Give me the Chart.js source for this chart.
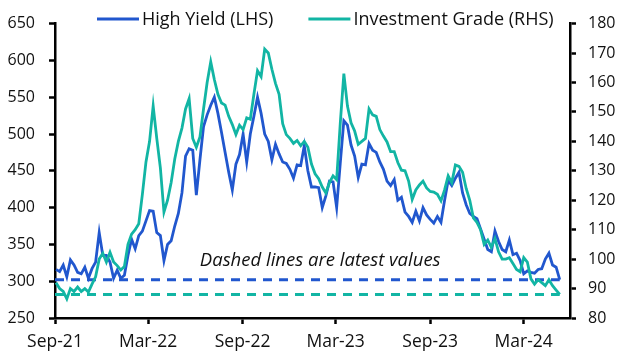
<!DOCTYPE html>
<html><head><meta charset="utf-8">
<script src="https://cdn.jsdelivr.net/npm/chart.js@4.4.1/dist/chart.umd.min.js"></script>
<style>html,body{margin:0;padding:0;background:#fff}#wrap{width:628px;height:360px;position:relative}</style>
</head><body><div id="wrap"><canvas id="c" width="628" height="360"></canvas></div>
<script>
// Weekly observations, first on 2021-09-03
const firstDate = '2021-09-03';
const highYield = [316,313,322,306,329,322,312,310,319,304,317,326,366,335,335,326,304,315,304,308,
335,357,344,362,368,382,396,395,366,362,328,350,355,375,392,420,470,480,478,417,
465,510,526,539,550,528,502,475,448,424,459,472,500,462,500,524,550,528,500,490,
465,486,473,462,460,452,440,458,457,484,450,428,428,427,400,416,436,435,400,460,
518,512,485,470,441,459,458,487,478,475,462,452,436,430,438,410,414,394,388,380,
395,382,400,390,384,379,388,380,410,437,430,440,448,420,404,392,388,385,371,357,
343,340,368,354,343,340,356,336,338,328,310,314,312,311,316,317,330,338,322,319,302];
const investmentGrade = [92,90,89,86.5,90,89,90.5,89,90,88.8,91.5,94,100,102,99,102.3,99,97.8,96.3,97.5,
105,108.5,110,112,122,133,140,152,141,131,116,120,126,134,140,144.5,151,154.5,141,138,
141.5,151,160,167,161,156,153,152.3,148.5,145.7,142.3,145.5,144,148,147.5,156,164,162,171.3,170,
164.5,159.7,156,146,142.3,141,139.3,140.3,138.5,140,138,132.3,129,127.3,124.5,122.5,126,128.3,127,146,
163,152,146.3,143.5,139,140,141,151,149,148.5,144,141.8,139.8,136.5,136.5,132.8,130.2,130,126.5,120.3,
123.5,125.2,126.5,124.2,123,122.8,122,119.8,123.5,128.3,126,132,131.5,129.5,124,120,114,112.5,110,105,
106.5,104,107,102.5,100,100,100.5,98.5,96.5,95.7,100.5,99,93.3,91.5,93,92,91,93,91,89.5,88];
const tickDates = ['2021-09-01','2022-03-01','2022-09-01','2023-03-01','2023-09-01','2024-03-01'];
const tickLabels = ['Sep-21','Mar-22','Sep-22','Mar-23','Sep-23','Mar-24'];
const axisEndDate = '2024-05-30';
const seriesNames = ['High Yield (LHS)','Investment Grade (RHS)'];
const noteText = 'Dashed lines are latest values';

const BLUE = '#2157CE', TEAL = '#12B5A4';
const FONT = "'Open Sans', sans-serif";
const dayMs = 86400000;
const origin = Date.UTC(2021, 8, 1);
const toDay = s => { const [y,m,d] = s.split('-').map(Number); return Math.round((Date.UTC(y,m-1,d) - origin)/dayMs); };
const firstDay = toDay(firstDate);
const xs = highYield.map((_, i) => firstDay + 7*i);
const lastDay = xs[xs.length-1];
const tickDays = tickDates.map(toDay);

const hyPts = highYield.map((v,i)=>({x:xs[i], y:v}));
const igPts = investmentGrade.map((v,i)=>({x:xs[i], y:v}));
const hyLast = highYield[highYield.length-1];
const igLast = investmentGrade[investmentGrade.length-1];

const overlay = {
  id:'overlay',
  afterDraw(chart){
    const ctx = chart.ctx, xS = chart.scales.x, yS = chart.scales.y;
    ctx.save();
    ctx.font = `18px ${FONT}`;
    ctx.textBaseline = 'alphabetic';
    ctx.textAlign = 'left';
    // legend
    const items = [[seriesNames[0], BLUE],[seriesNames[1], TEAL]];
    const sw = 42, gap = 3, sep = 35;
    let x = chart.chartArea.left + 42;
    const ly = 19, base = 25;
    items.forEach((it)=>{
      ctx.strokeStyle = it[1]; ctx.lineWidth = 3; ctx.setLineDash([]); ctx.lineCap = 'butt';
      ctx.beginPath(); ctx.moveTo(x, ly); ctx.lineTo(x+sw, ly); ctx.stroke();
      x += sw + gap;
      ctx.fillStyle = '#111';
      ctx.fillText(it[0], x, base);
      x += ctx.measureText(it[0]).width + sep;
    });
    // note
    ctx.font = `italic 18.5px ${FONT}`;
    ctx.textAlign = 'center';
    ctx.fillText(noteText, xS.getPixelForValue(516), yS.getPixelForValue(320));
    ctx.restore();
  }
};

const gridOpts = {display:true, drawOnChartArea:false, drawTicks:true, tickLength:6, tickColor:'#000', tickWidth:2.5};
const borderOpts = {display:true, color:'#000', width:2.5};

new Chart(document.getElementById('c'), {
  type:'line',
  data:{datasets:[
    {label:seriesNames[0], data:hyPts, borderColor:BLUE, borderWidth:2.8, pointRadius:0, yAxisID:'y', tension:0, order:1},
    {label:seriesNames[1], data:igPts, borderColor:TEAL, borderWidth:2.8, pointRadius:0, yAxisID:'y2', tension:0, order:0},
    {label:'hyLatest', data:[{x:0,y:hyLast},{x:lastDay,y:hyLast}], borderColor:BLUE, borderWidth:3, borderDash:[9,7], pointRadius:0, yAxisID:'y', order:3},
    {label:'igLatest', data:[{x:0,y:igLast},{x:lastDay,y:igLast}], borderColor:TEAL, borderWidth:3, borderDash:[9,7], pointRadius:0, yAxisID:'y2', order:3}
  ]},
  options:{
    responsive:false, animation:false, devicePixelRatio:1,
    layout:{padding:{top:18,left:0,right:0,bottom:0}},
    plugins:{legend:{display:false}, tooltip:{enabled:false}},
    scales:{
      x:{type:'linear', min:0, max:toDay(axisEndDate),
        afterBuildTicks(s){ s.ticks = tickDays.map(v=>({value:v})); },
        afterFit(s){ s.height = 42; },
        ticks:{autoSkip:false, maxRotation:0, padding:8, color:'#111', font:{family:FONT,size:17.5},
          callback:(v)=>{ const k = tickDays.indexOf(v); return k>=0 ? tickLabels[k] : ''; }},
        grid:gridOpts, border:borderOpts
      },
      y:{position:'left', min:250, max:650,
        afterFit(s){ s.width = 55; },
        ticks:{stepSize:50, padding:14, color:'#111', font:{family:FONT,size:16}},
        grid:gridOpts, border:borderOpts
      },
      y2:{position:'right', min:80, max:180,
        afterFit(s){ s.width = 58; },
        ticks:{stepSize:10, padding:12, color:'#111', font:{family:FONT,size:16}},
        grid:gridOpts, border:borderOpts
      }
    }
  },
  plugins:[overlay]
});
</script></body></html>
